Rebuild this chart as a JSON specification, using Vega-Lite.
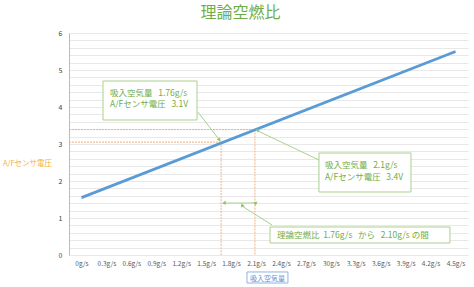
{
  "$schema": "https://vega.github.io/schema/vega-lite/v6.json",
  "width": 399,
  "height": 222,
  "autosize": "none",
  "padding": {"left": 69, "top": 33, "right": 6, "bottom": 32},
  "background": "white",
  "title": {
    "text": "理論空燃比",
    "font": "Noto Sans CJK JP",
    "fontSize": 16,
    "fontWeight": "normal",
    "color": "#70ad47",
    "anchor": "middle",
    "frame": "group",
    "dx": -28,
    "offset": 8
  },
  "config": {
    "view": {"stroke": null},
    "axis": {"labelFont": "Noto Sans CJK JP", "titleFont": "Noto Sans CJK JP"}
  },
  "datasets": {
    "curve": [{"x": 0, "y": 1.55}, {"x": 4.5, "y": 5.5}],
    "guides": [
      {"x": -0.15, "x2": 1.68, "y": 3.05, "y2": 3.05},
      {"x": 1.68, "x2": 1.68, "y": 3.05, "y2": 0},
      {"x": -0.15, "x2": 2.087, "y": 3.39, "y2": 3.39},
      {"x": 2.087, "x2": 2.087, "y": 3.39, "y2": 0}
    ],
    "arrows": [
      {"x": 1.4015, "y": 3.865, "x2": 1.66, "y2": 3.108},
      {"x": 2.857, "y": 2.568, "x2": 2.123, "y2": 3.351},
      {"x": 2.292, "y": 0.811, "x2": 1.931, "y2": 1.324},
      {"x": 1.714, "y": 1.405, "x2": 2.087, "y2": 1.405}
    ],
    "heads": [
      {"h": "a1", "x": 1.66, "y": 3.108},
      {"h": "a2", "x": 2.123, "y": 3.351},
      {"h": "a3", "x": 1.931, "y": 1.324},
      {"h": "l", "x": 1.714, "y": 1.405},
      {"h": "r", "x": 2.087, "y": 1.405}
    ],
    "boxes": [
      {"x": 0.259, "x2": 1.39, "y": 4.703, "y2": 3.649},
      {"x": 2.857, "x2": 3.964, "y": 2.757, "y2": 1.703},
      {"x": 2.268, "x2": 4.433, "y": 0.757, "y2": 0.324}
    ],
    "notes": [
      {"x": 0.343, "y": 4.385, "t": "吸入空気量\u00a0\u00a0\u00a01.76g/s"},
      {"x": 0.343, "y": 4.07, "t": "A/Fセンサ電圧\u00a0\u00a0\u00a03.1V"},
      {"x": 2.929, "y": 2.44, "t": "吸入空気量\u00a0\u00a0\u00a02.1g/s"},
      {"x": 2.929, "y": 2.115, "t": "A/Fセンサ電圧\u00a0\u00a0\u00a03.4V"},
      {"x": 2.352, "y": 0.541, "t": "理論空燃比\u00a0\u00a01.76g/s\u00a0\u00a0\u00a0から\u00a0\u00a0\u00a02.10g/s\u00a0の間"}
    ],
    "xtitlebox": [{"x": 1.991, "x2": 2.484, "y": -0.459, "y2": -0.757}]
  },
  "encoding": {
    "x": {
      "field": "x",
      "type": "quantitative",
      "scale": {"domain": [-0.15, 4.65], "nice": false, "zero": false},
      "axis": {
        "values": [0, 0.3, 0.6, 0.9, 1.2, 1.5, 1.8, 2.1, 2.4, 2.7, 3, 3.3, 3.6, 3.9, 4.2, 4.5],
        "labelExpr": "datum.value == 3 ? '30g/s' : format(datum.value, '.1~f') + 'g/s'",
        "labelFontSize": 6.5,
        "labelColor": "#595959",
        "labelPadding": 5,
        "labelOverlap": false,
        "grid": false,
        "ticks": false,
        "domain": false,
        "title": "吸入空気量",
        "titleFontSize": 7,
        "titleFontWeight": "normal",
        "titleColor": "#5b8fd0",
        "titleX": 198,
        "titleY": 23,
        "titleAlign": "center",
        "titleBaseline": "middle"
      }
    },
    "y": {
      "field": "y",
      "type": "quantitative",
      "scale": {"domain": [0, 6], "nice": false, "zero": false},
      "axis": {
        "values": [0, 0.2, 0.4, 0.6, 0.8, 1, 1.2, 1.4, 1.6, 1.8, 2, 2.2, 2.4, 2.6, 2.8, 3, 3.2, 3.4, 3.6, 3.8, 4, 4.2, 4.4, 4.6, 4.8, 5, 5.2, 5.4, 5.6, 5.8, 6],
        "labelExpr": "abs(datum.value - round(datum.value)) < 0.01 ? format(datum.value, 'd') : ''",
        "labelFontSize": 7,
        "labelColor": "#404040",
        "labelPadding": 7,
        "labelOverlap": false,
        "grid": true,
        "gridColor": "#e8e8e8",
        "gridWidth": 1,
        "ticks": false,
        "domain": true,
        "domainColor": "#9dc3e6",
        "domainWidth": 1,
        "title": "A/Fセンサ電圧",
        "titleAngle": 0,
        "titleFontSize": 7.5,
        "titleFontWeight": "normal",
        "titleColor": "#f5b030",
        "titleX": -42,
        "titleY": 130,
        "titleAlign": "center",
        "titleBaseline": "middle"
      }
    }
  },
  "layer": [
    {
      "data": {"name": "guides"},
      "mark": {"type": "rule", "color": "#f4b183", "strokeWidth": 1, "strokeDash": [2, 1]},
      "encoding": {"x2": {"field": "x2"}, "y2": {"field": "y2"}}
    },
    {
      "data": {"name": "curve"},
      "mark": {"type": "line", "color": "#5b9bd5", "strokeWidth": 2.75},
      "encoding": {}
    },
    {
      "data": {"name": "arrows"},
      "mark": {"type": "rule", "color": "#a9d18e", "strokeWidth": 1},
      "encoding": {"x2": {"field": "x2"}, "y2": {"field": "y2"}}
    },
    {
      "data": {"name": "heads"},
      "mark": {"type": "point", "shape": "triangle-up", "filled": true, "color": "#92c56e", "size": 18, "opacity": 1},
      "encoding": {
        "angle": {
          "field": "h",
          "type": "ordinal",
          "scale": {"domain": ["a1", "a2", "a3", "l", "r"], "range": [143, 295, 302, 270, 90]},
          "legend": null
        }
      }
    },
    {
      "data": {"name": "boxes"},
      "mark": {"type": "rect", "fill": "white", "stroke": "#a9d18e", "strokeWidth": 1},
      "encoding": {"x2": {"field": "x2"}, "y2": {"field": "y2"}}
    },
    {
      "data": {"name": "notes"},
      "mark": {"type": "text", "align": "left", "baseline": "middle", "font": "Noto Sans CJK JP", "fontSize": 8.5, "color": "#70ad47"},
      "encoding": {"text": {"field": "t"}}
    },
    {
      "data": {"name": "xtitlebox"},
      "mark": {"type": "rect", "fill": null, "fillOpacity": 0, "stroke": "#8fb4e3", "strokeWidth": 1},
      "encoding": {"x2": {"field": "x2"}, "y2": {"field": "y2"}}
    }
  ]
}
